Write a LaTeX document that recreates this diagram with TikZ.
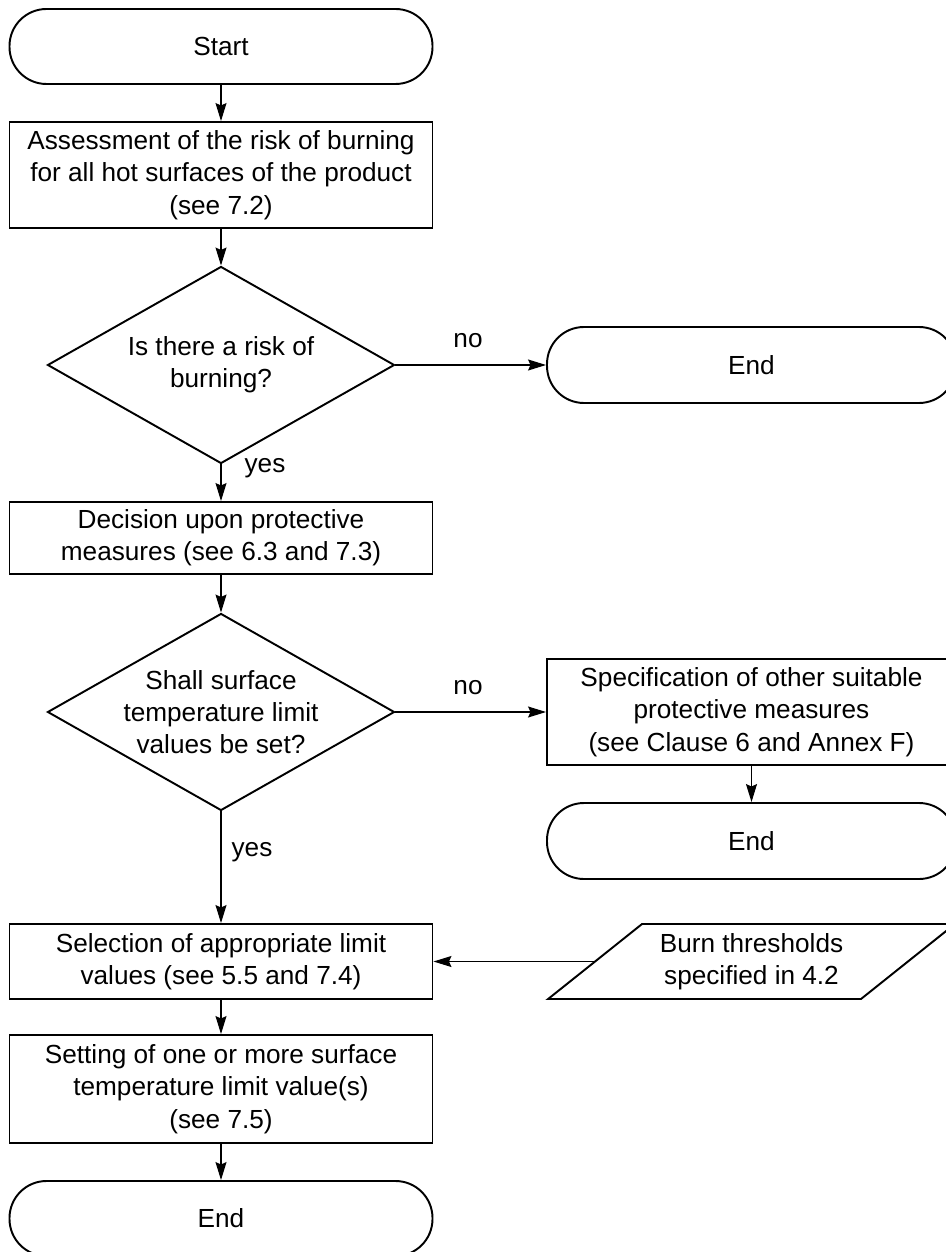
\documentclass[tikz,border=0pt]{standalone}
\usepackage{fontspec}
\setmainfont{Liberation Sans}
\usetikzlibrary{shapes.geometric,arrows.meta}

\begin{document}
\begin{tikzpicture}[
  font=\fontsize{14.9pt}{18.4pt}\selectfont,
  >={Stealth[length=0.36cm,width=0.22cm,inset=0.05cm]},
  terminal/.style={draw,line width=1.1pt,rectangle,rounded corners=0.74cm,minimum height=1.5cm,align=center},
  process/.style={draw,line width=1.1pt,rectangle,align=center,inner sep=0pt},
  decision/.style={draw,line width=1.1pt,diamond,aspect=1.76,align=center,inner sep=0pt,minimum width=6.94cm,minimum height=3.94cm},
  dataio/.style={draw,line width=1.1pt,trapezium,trapezium left angle=35.8,trapezium right angle=144.2,trapezium stretches=true,minimum width=8.16cm,minimum height=1.5cm,align=center,inner sep=0pt},
  flow/.style={->,line width=0.6pt}
]
\useasboundingbox (0,0) rectangle (18.9,-25.04);

% left column
\node[terminal, minimum width=8.46cm] (start) at (4.42,-0.93) {Start};
\node[process, minimum width=8.46cm, minimum height=2.12cm] (assess) at (4.42,-3.5) {Assessment of the risk of burning\\for all hot surfaces of the product\\(see 7.2)};
\node[decision] (risk) at (4.42,-7.3) {Is there a risk of\\burning?};
\node[process, minimum width=8.46cm, minimum height=1.44cm] (decide) at (4.42,-10.76) {Decision upon protective\\measures (see 6.3 and 7.3)};
\node[decision] (setlim) at (4.42,-14.24) {Shall surface\\temperature limit\\values be set?};
\node[process, minimum width=8.46cm, minimum height=1.5cm] (select) at (4.42,-19.23) {Selection of appropriate limit\\values (see 5.5 and 7.4)};
\node[process, minimum width=8.46cm, minimum height=2.16cm] (setting) at (4.42,-21.78) {Setting of one or more surface\\temperature limit value(s)\\(see 7.5)};
\node[terminal, minimum width=8.46cm] (endC) at (4.42,-24.37) {End};

% right column
\node[terminal, minimum width=8.18cm, minimum height=1.52cm] (endA) at (15.03,-7.3) {End};
\node[process, minimum width=8.18cm, minimum height=2.12cm] (other) at (15.03,-14.24) {Specification of other suitable\\protective measures\\(see Clause 6 and Annex F)};
\node[terminal, minimum width=8.18cm, minimum height=1.52cm] (endB) at (15.03,-16.82) {End};
\node[dataio] (burn) at (15.03,-19.23) {Burn thresholds\\specified in 4.2};

% connectors
\draw[flow] (start) -- (assess);
\draw[flow] (assess) -- (risk);
\draw[flow] (risk) -- (endA);
\draw[flow] (risk) -- (decide);
\draw[flow] (decide) -- (setlim);
\draw[flow] (setlim) -- (other);
\draw[flow] (other) -- (endB);
\draw[flow] (setlim) -- (select);
\draw[flow] (burn.left side) -- (select);
\draw[flow] (select) -- (setting);
\draw[flow] (setting) -- (endC);

% labels
\node (noA) at (9.36,-6.82) {no};
\node (yesA) at (5.3,-9.36) {yes};
\node (noB) at (9.36,-13.76) {no};
\node (yesB) at (5.04,-17.04) {yes};

\end{tikzpicture}
\end{document}
